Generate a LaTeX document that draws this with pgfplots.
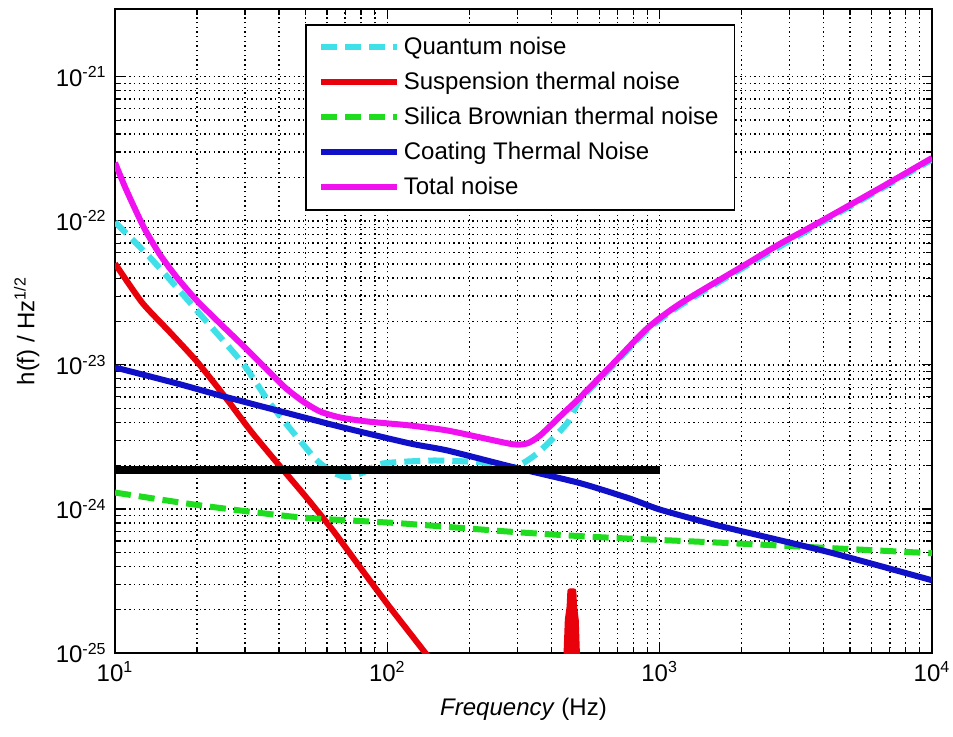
\documentclass[12pt,border=0pt]{standalone}
\usepackage{fontspec}
\setmainfont{Liberation Sans}
\setsansfont{Liberation Sans}
\usepackage{pgfplots}
\pgfplotsset{compat=1.18}

\definecolor{qcyan}{RGB}{64,224,232}
\definecolor{sred}{RGB}{232,0,10}
\definecolor{sgreen}{RGB}{30,220,30}
\definecolor{cblue}{RGB}{16,16,200}
\definecolor{tmag}{RGB}{240,16,240}

\begin{document}
\begin{tikzpicture}
\useasboundingbox (-57.5pt,-41.5pt) rectangle (419pt,326.5pt);
\begin{axis}[
  scale only axis,
  width=408.5pt, height=322pt,
  xmode=log, ymode=log,
  xmin=10, xmax=10000,
  ymin=1e-25, ymax=2.95e-21,
  xtick={10,100,1000,10000},
  xticklabels={10\textsuperscript{1},10\textsuperscript{2},10\textsuperscript{3},10\textsuperscript{4}},
  ytick={1e-25,1e-24,1e-23,1e-22,1e-21},
  yticklabels={10\textsuperscript{-25},10\textsuperscript{-24},10\textsuperscript{-23},10\textsuperscript{-22},10\textsuperscript{-21}},
  grid=both,
  major grid style={black, line width=0.7pt, dash pattern=on 0.7pt off 1.65pt},
  minor grid style={black, line width=0.7pt, dash pattern=on 0.7pt off 1.65pt},
  major tick length=5pt, minor tick length=3pt,
  tick style={black, line width=0.6pt},
  axis line style={line width=0.8pt},
  xlabel={\textit{Frequency} (Hz)},
  ylabel={h(f) / Hz\textsuperscript{1/2}},
  legend style={at={(0.2326,0.9767)}, anchor=north west, draw=black, line width=0.8pt,
    inner xsep=6pt, inner ysep=4pt, row sep=3pt},
  legend cell align=left,
  legend image code/.code={\draw[#1] (0pt,0pt) -- (38pt,0pt);},
  every axis plot/.append style={line join=round},
]
% Quantum noise
\addplot[qcyan, line width=3pt, dash pattern=on 8pt off 4pt, smooth, tension=0.4] coordinates {
  (10,9.8e-23) (13.8,5.28e-23) (20,2.38e-23) (29.5,1.02e-23) (37.1,5.4e-24)
  (47.7,2.99e-24) (55.2,2.17e-24) (63,1.8e-24) (71.1,1.66e-24) (82,1.8e-24)
  (96.4,2.07e-24) (147,2.17e-24) (219,2.11e-24) (290,1.95e-24) (355,2.43e-24)
  (457,3.93e-24) (510,5.7e-24) (674.5,9.9e-24) (899,1.74e-23) (1188,2.58e-23)
  (2094,4.9e-23) (3658,9.0e-23) (6443,1.65e-22) (10000,2.66e-22)
};
\addlegendentry{Quantum noise}
% Suspension thermal noise
\addplot[sred, line width=3pt, smooth, tension=0.4] coordinates {
  (10,5.05e-23) (12.59,2.70e-23) (15.85,1.70e-23) (19.95,1.06e-23) (25.12,6.14e-24)
  (31.62,3.45e-24) (39.81,2.04e-24) (50.12,1.22e-24) (63.1,7.11e-25) (79.43,3.94e-25)
  (100,2.19e-25) (125.9,1.25e-25) (158.5,7.15e-26)
};
\addlegendentry{Suspension thermal noise}
% violin mode peak of the suspension
\addplot[sred, fill=sred, line width=2.5pt, forget plot] coordinates {
  (447,5e-26) (458,1.7e-25) (465,2.1e-25) (468,2.7e-25) (484,2.7e-25)
  (487,2.1e-25) (494,1.7e-25) (505,5e-26) (447,5e-26)
};
% Silica Brownian thermal noise
\addplot[sgreen, line width=3pt, dash pattern=on 8pt off 4pt, smooth, tension=0.4] coordinates {
  (10,1.3e-24) (20.5,1.06e-24) (47.7,8.75e-25) (111,7.96e-25) (299,6.9e-25)
  (604,6.37e-25) (1862,5.78e-25) (4333,5.34e-25) (10000,4.93e-25)
};
\addlegendentry{Silica Brownian thermal noise}
% Coating thermal noise
\addplot[cblue, line width=3pt, smooth, tension=0.4] coordinates {
  (10,9.6e-24) (16.9,7.43e-24) (24.3,6.14e-24) (39.4,4.83e-24) (68.7,3.68e-24)
  (121,2.85e-24) (165.6,2.55e-24) (290,1.95e-24) (511,1.51e-24) (778,1.18e-24)
  (1003,9.9e-25) (1625,7.71e-25) (2478,6.37e-25) (4333,4.93e-25) (10000,3.2e-25)
};
\addlegendentry{Coating Thermal Noise}
% Total noise
\addplot[tmag, line width=3pt, smooth, tension=0.4] coordinates {
  (10,2.53e-22) (10.88,1.72e-22) (11.84,1.21e-22) (12.89,8.68e-23) (14.63,5.82e-23)
  (16.9,4.03e-23) (20,2.79e-23) (24.3,1.94e-23) (29.52,1.36e-23) (35.55,9.59e-24)
  (42.11,6.97e-24) (49.0,5.58e-24) (56.6,4.75e-24) (67.0,4.32e-24) (84.2,4.05e-24)
  (121,3.80e-24) (165.6,3.51e-24) (219,3.14e-24) (290,2.81e-24) (326,2.85e-24)
  (364,3.24e-24) (442,4.60e-24) (510,5.94e-24) (674.5,1.02e-23) (899,1.79e-23)
  (1188,2.66e-23) (2094,5.05e-23) (2768,6.93e-23) (3658,9.25e-23) (6443,1.69e-22)
  (10000,2.73e-22)
};
\addlegendentry{Total noise}
% Reference level
\addplot[black, line width=4pt, forget plot] coordinates {(10,1.85e-24) (1000,1.85e-24)};
\end{axis}
\end{tikzpicture}
\end{document}
